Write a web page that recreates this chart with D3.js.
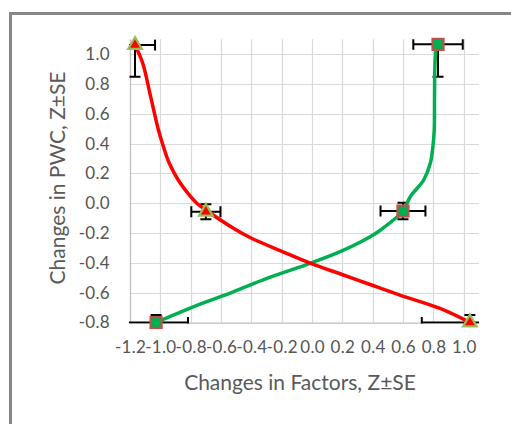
<!DOCTYPE html>
<html>
<head>
<meta charset="utf-8">
<script src="https://cdn.jsdelivr.net/npm/d3@7"></script>
<style>
  html, body { margin: 0; padding: 0; background: #fff; }
  svg { display: block; }
</style>
</head>
<body>
<svg id="chart" width="511" height="424"></svg>
<script>
// Axis ticks
const xTicks = [-1.2, -1.0, -0.8, -0.6, -0.4, -0.2, 0.0, 0.2, 0.4, 0.6, 0.8, 1.0];
const yTicks = [-0.8, -0.6, -0.4, -0.2, 0.0, 0.2, 0.4, 0.6, 0.8, 1.0];

// Fitted curve: PWC vs factors (red)
const redCurveX = [-1.167, -1.116, -1.064, -1.013, -0.98, -0.941, -0.882, -0.80, -0.76, -0.70, -0.521, -0.409, -0.196, -0.014, 0.197, 0.382, 0.579, 0.843, 1.04];
const redCurveY = [1.062, 0.939, 0.715, 0.493, 0.381, 0.268, 0.156, 0.044, 0.0, -0.045, -0.166, -0.230, -0.324, -0.401, -0.478, -0.545, -0.616, -0.706, -0.80];

// Fitted curve (green)
const greenCurveX = [-1.028, -0.883, -0.738, -0.519, -0.298, -0.013, 0.185, 0.383, 0.449, 0.599, 0.647, 0.735, 0.779, 0.796, 0.805, 0.807, 0.81, 0.82];
const greenCurveY = [-0.80, -0.737, -0.677, -0.594, -0.504, -0.403, -0.325, -0.225, -0.181, -0.052, 0.044, 0.156, 0.268, 0.379, 0.491, 0.715, 0.939, 1.066];

// Group means with standard errors (red triangles)
const redX = [-1.167, -0.70, 1.04];
const redY = [1.062, -0.057, -0.80];
const redSeX = [0.132, 0.096, 0.317];
const redSeY = [0.213, 0.05, 0.05];

// Group means with standard errors (green squares)
const greenX = [-1.028, 0.599, 0.83];
const greenY = [-0.80, -0.052, 1.066];
const greenSeX = [0.21, 0.148, 0.163];
const greenSeY = [0.05, 0.055, 0.217];

const svg = d3.select("#chart");

// Outer chart frame
svg.append("rect")
  .attr("x", 10.5).attr("y", 13.5)
  .attr("width", 620).attr("height", 520)
  .attr("fill", "#fff")
  .attr("stroke", "#878787")
  .attr("stroke-width", 3);

const x = d3.scaleLinear().domain([-1.2, 1.1]).range([130, 479]);
const y = d3.scaleLinear().domain([-0.8, 1.1]).range([322.5, 39.3]);

const [x0, x1] = x.range();
const [y0, y1] = y.range();

// Gridlines
const grid = svg.append("g");
grid.selectAll("line.v").data(xTicks).join("line")
  .attr("x1", d => Math.round(x(d)) + 0.5).attr("x2", d => Math.round(x(d)) + 0.5)
  .attr("y1", y1).attr("y2", y0)
  .attr("stroke", "#d9d9d9").attr("stroke-width", 1.2);
grid.selectAll("line.h").data(yTicks).join("line")
  .attr("y1", d => Math.round(y(d)) + 0.5).attr("y2", d => Math.round(y(d)) + 0.5)
  .attr("x1", x0).attr("x2", x1)
  .attr("stroke", "#d9d9d9").attr("stroke-width", 1.2);

// Axes (labels only, axis lines drawn in light grey)
const fmt = v => v.toFixed(1);
const xAxis = svg.append("g")
  .attr("transform", `translate(0,${y0})`)
  .call(d3.axisBottom(x).tickValues(xTicks).tickFormat(fmt).tickSize(0).tickPadding(18));
const yAxis = svg.append("g")
  .attr("transform", `translate(${x0},0)`)
  .call(d3.axisLeft(y).tickValues(yTicks).tickFormat(fmt).tickSize(0).tickPadding(20));
[xAxis, yAxis].forEach(g => {
  g.select(".domain").attr("stroke", "#bfbfbf").attr("stroke-width", 1.2);
  g.selectAll("text")
    .attr("fill", "#555")
    .style("font-family", "Lato, 'Liberation Sans', sans-serif")
    .style("font-size", "17px")
    .style("letter-spacing", "0.3px");
});

// Axis titles
svg.append("text")
  .attr("x", 300).attr("y", 390)
  .attr("text-anchor", "middle")
  .attr("fill", "#595959")
  .style("font-family", "Lato, 'Liberation Sans', sans-serif")
  .style("font-size", "21px")
  .text("Changes in Factors, Z±SE");

svg.append("text")
  .attr("transform", "translate(65,178) rotate(-90)")
  .attr("text-anchor", "middle")
  .attr("fill", "#595959")
  .style("font-family", "Lato, 'Liberation Sans', sans-serif")
  .style("font-size", "21px")
  .text("Changes in PWC, Z±SE");

// Clip error bars to the plot area
svg.append("clipPath").attr("id", "plot-clip")
  .append("rect").attr("x", x0 - 1).attr("y", y1).attr("width", x1 - x0 + 1).attr("height", y0 - y1 + 1);

const cap = 5.5;
function errorBars(xs, ys, sx, sy) {
  const g = svg.append("g").attr("clip-path", "url(#plot-clip)")
    .attr("stroke", "#000").attr("stroke-width", 2).attr("fill", "none");
  xs.forEach((xv, i) => {
    const cx = x(xv), cy = y(ys[i]);
    const xl = x(xv - sx[i]), xr = x(xv + sx[i]);
    const yt = y(ys[i] + sy[i]), yb = y(ys[i] - sy[i]);
    g.append("line").attr("x1", xl).attr("x2", xr).attr("y1", cy).attr("y2", cy);
    g.append("line").attr("x1", xl).attr("x2", xl).attr("y1", cy - cap).attr("y2", cy + cap);
    g.append("line").attr("x1", xr).attr("x2", xr).attr("y1", cy - cap).attr("y2", cy + cap);
    g.append("line").attr("x1", cx).attr("x2", cx).attr("y1", yt).attr("y2", yb);
    g.append("line").attr("x1", cx - cap).attr("x2", cx + cap).attr("y1", yt).attr("y2", yt);
    g.append("line").attr("x1", cx - cap).attr("x2", cx + cap).attr("y1", yb).attr("y2", yb);
  });
}
errorBars(redX, redY, redSeX, redSeY);
errorBars(greenX, greenY, greenSeX, greenSeY);

// Fitted curves
const line = d3.line().x(d => x(d[0])).y(d => y(d[1])).curve(d3.curveCatmullRom.alpha(0.5));
svg.append("path")
  .datum(greenCurveX.map((v, i) => [v, greenCurveY[i]]))
  .attr("d", line).attr("fill", "none")
  .attr("stroke", "#00b050").attr("stroke-width", 3.5).attr("stroke-linejoin", "round");
svg.append("path")
  .datum(redCurveX.map((v, i) => [v, redCurveY[i]]))
  .attr("d", line).attr("fill", "none")
  .attr("stroke", "#ff0000").attr("stroke-width", 3.5).attr("stroke-linejoin", "round");

// Markers
const tri = d3.symbol().type(d3.symbolTriangle).size(80);
svg.append("g").selectAll("path").data(redX).join("path")
  .attr("transform", (d, i) => `translate(${x(d)},${y(redY[i])})`)
  .attr("d", tri)
  .attr("fill", "#ff0000").attr("stroke", "#9bbb59").attr("stroke-width", 2.2)
  .attr("stroke-linejoin", "miter");

const sq = 11;
svg.append("g").selectAll("rect").data(greenX).join("rect")
  .attr("x", d => x(d) - sq / 2)
  .attr("y", (d, i) => y(greenY[i]) - sq / 2)
  .attr("width", sq).attr("height", sq)
  .attr("fill", "#00b050").attr("stroke", "#c0504d").attr("stroke-width", 2.2);
</script>
</body>
</html>
